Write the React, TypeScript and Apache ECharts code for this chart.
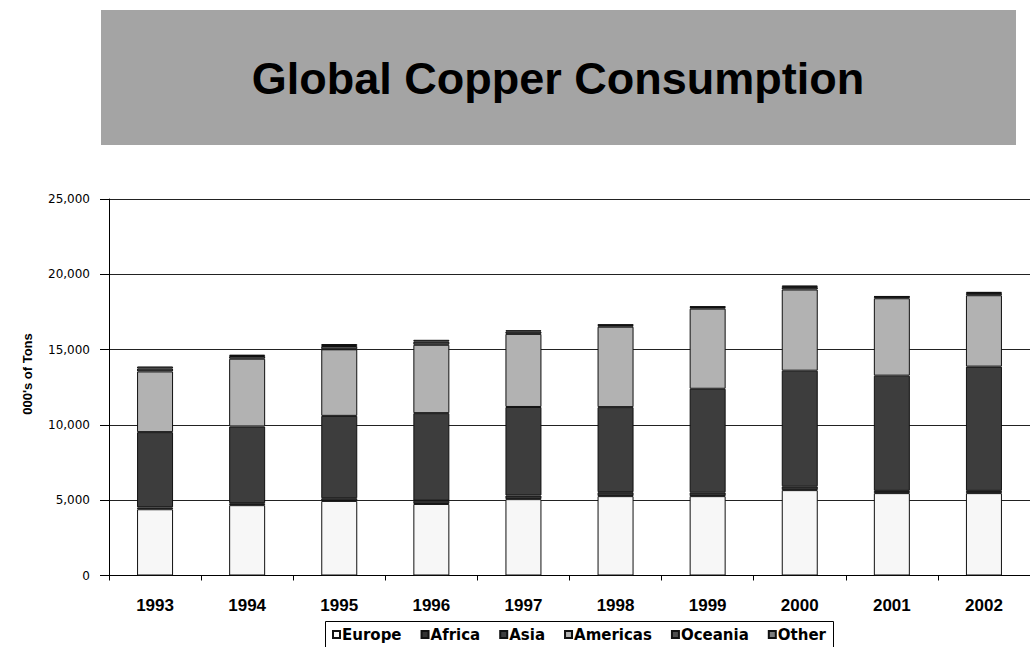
import React, { useEffect, useRef } from "react";
import * as echarts from "echarts";

const years = ["1993", "1994", "1995", "1996", "1997", "1998", "1999", "2000", "2001", "2002"];
const europe = [4400, 4670, 4950, 4750, 5070, 5270, 5270, 5670, 5470, 5470];
const africa = [120, 130, 180, 220, 240, 260, 250, 250, 150, 150];
const asia = [5000, 5095, 5470, 5810, 5880, 5650, 6880, 7680, 7650, 8250];
const americas = [4030, 4500, 4420, 4540, 4855, 5340, 5320, 5390, 5140, 4740];
const oceania = [200, 180, 220, 210, 160, 110, 110, 170, 100, 150];
const other = [130, 90, 130, 120, 80, 40, 40, 100, 35, 75];

const seriesNames = ["Europe", "Africa", "Asia", "Americas", "Oceania", "Other"];
const seriesData = [europe, africa, asia, americas, oceania, other];
const seriesColors = ["#f7f7f7", "#333333", "#3d3d3d", "#b2b2b2", "#4e4e4e", "#7c7c7c"];

const yTicks = { min: 0, max: 25000, interval: 5000 };

export default function App() {
  const ref = useRef<HTMLDivElement>(null);
  useEffect(() => {
    if (!ref.current) return;
    const chart = echarts.init(ref.current, null, { renderer: "svg" });
    chart.setOption({
      animation: false,
      backgroundColor: "#ffffff",
      grid: { left: 109, right: -3, top: 199, bottom: 71.5, containLabel: false },
      graphic: [
        {
          type: "rect",
          shape: { x: 101, y: 10, width: 915, height: 135 },
          style: { fill: "#a4a4a4" },
          silent: true,
        },
        {
          type: "text",
          x: 558,
          y: 78,
          style: {
            text: "Global Copper Consumption",
            font: "bold 45px 'Liberation Sans', Arial, sans-serif",
            fill: "#000",
            align: "center",
            verticalAlign: "middle",
          },
        },
        {
          type: "text",
          x: 27,
          y: 374,
          rotation: Math.PI / 2,
          style: {
            text: "000's of Tons",
            font: "bold 13px 'Liberation Sans', Arial, sans-serif",
            fill: "#000",
            align: "center",
            verticalAlign: "middle",
          },
        },
        {
          type: "rect",
          shape: { x: 325.5, y: 621.5, width: 508, height: 26 },
          style: { fill: "none", stroke: "#000", lineWidth: 1 },
          silent: true,
        },
      ],
      legend: {
        left: 332,
        top: 627,
        padding: 0,
        itemWidth: 7,
        itemHeight: 7,
        itemGap: 19,
        icon: "rect",
        textStyle: {
          fontFamily: "'DejaVu Sans', sans-serif",
          fontWeight: "bold",
          fontSize: 15,
          color: "#000",
          padding: [0, 0, 0, -3],
        },
        data: seriesNames,
      },
      xAxis: {
        type: "category",
        data: years,
        axisLine: { show: true, lineStyle: { color: "#000", width: 1 } },
        axisTick: { show: true, length: 5, alignWithLabel: false, lineStyle: { color: "#000" } },
        axisLabel: {
          margin: 21,
          color: "#000",
          fontFamily: "'Liberation Sans', Arial, sans-serif",
          fontWeight: "bold",
          fontSize: 17,
        },
        splitLine: { show: false },
      },
      yAxis: {
        type: "value",
        min: yTicks.min,
        max: yTicks.max,
        interval: yTicks.interval,
        axisLine: { show: true, lineStyle: { color: "#000", width: 1 } },
        axisTick: { show: true, length: 9, lineStyle: { color: "#000" } },
        axisLabel: {
          margin: 19,
          color: "#000",
          fontFamily: "'DejaVu Sans', sans-serif",
          fontSize: 12,
          padding: [0, 0, 12, 0],
          formatter: (v: number) => v.toLocaleString("en-US"),
        },
        splitLine: { show: true, lineStyle: { color: "#222", width: 1 } },
      },
      series: seriesNames.map((name, i) => ({
        name,
        type: "bar",
        stack: "total",
        barWidth: 36,
        data: seriesData[i],
        itemStyle: { color: seriesColors[i], borderColor: "#111", borderWidth: 1 },
        emphasis: { disabled: true },
      })),
    });
    return () => chart.dispose();
  }, []);
  return (
    <div
      ref={ref}
      style={{ position: "fixed", left: 0, top: 0, width: 1030, height: 647 }}
    />
  );
}
